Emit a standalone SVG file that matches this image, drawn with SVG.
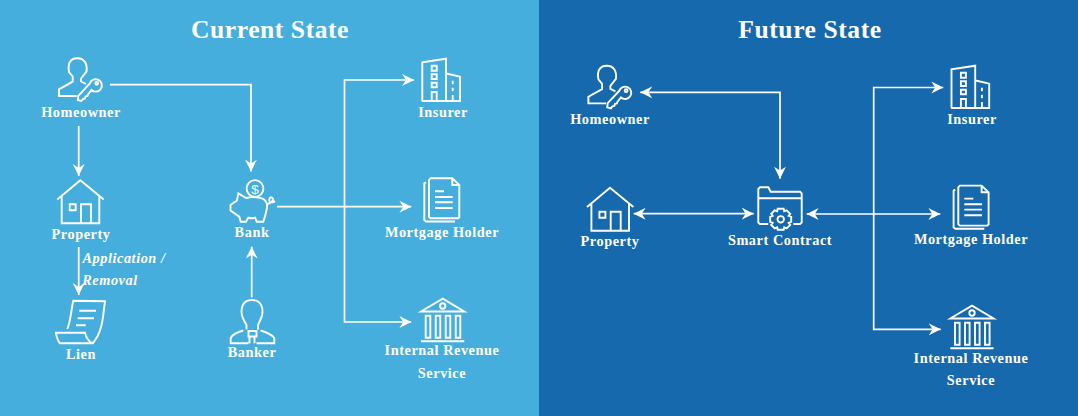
<svg xmlns="http://www.w3.org/2000/svg" width="1078" height="416" viewBox="0 0 1078 416">
<style>
text{font-family:"Liberation Serif","Times New Roman",serif;font-weight:700;fill:#fff;text-anchor:middle}
.l{font-size:14.3px;letter-spacing:.55px}
.t{font-size:25.6px;letter-spacing:.55px}
.i{font-style:italic}
.s{fill:none;stroke:#fff;stroke-width:1.9;stroke-linejoin:miter}
.c{fill:none;stroke:#fff;stroke-width:1.7}
</style>
<defs>
<marker id="a" markerUnits="userSpaceOnUse" markerWidth="13" markerHeight="13" refX="11" refY="6" orient="auto-start-reverse" viewBox="0 0 12 12"><path d="M0 0.500L11 6L0 11.500L3.500 6Z" fill="#fff"/></marker>
<symbol id="owner" overflow="visible"><path class="s" d="M76.700 96H59V89.300L72.700 81.700V76.500L69 72C67.500 64 70 58.300 77.300 58.300C84.500 58.300 87.500 64 86.500 71.500L81 78.500V81.500L86 84"/><path class="s" d="M91.500 90A6.200 6.200 0 1 0 89.800 83.500L78.300 95.800L77.800 100L81.500 101L83 99L85 98.500L85.500 96.500L87.500 96L88 94.500Z"/><circle class="s" cx="96.700" cy="83.300" r="1.400"/></symbol>
<symbol id="house" overflow="visible"><path class="s" d="M57.300 199.500L80.300 180.300L103.700 199.500M61.700 196V223.300H99.300V196M81 223.300V204.300H91V223.300M69.700 204.300H75.700V210.300H69.700Z"/></symbol>
<symbol id="ins" overflow="visible"><path class="s" d="M421.700 101H460V76.700L446.500 73.500M422.300 101V62.300L446 58.700V101M431.700 65.700H436.700V70.700H431.700ZM431.700 74.300H436.700V79H431.700ZM431.700 82.700H436.700V87.300H431.700ZM431.700 101V92H436.700V101M452.700 80.700V84.300M452.700 87.700V91.300M452.700 95V101"/></symbol>
<symbol id="doc" overflow="visible"><path class="s" d="M430.500 178.300H452.300L459.300 185V217L458 218.300H430.500L429 217V180ZM452.300 178.300V185H459.300M426 182.300L424.300 183.300V220L426 221.500H455M435 191.300H444M435 197H452.700M435 202.300H452.700M435 208H452.700"/></symbol>
<symbol id="gov" overflow="visible"><path class="s" d="M421 311.500L442.700 298.700L464.300 311.500ZM421 341.300H464.300M425.700 315.700H430.300V337.700H425.700ZM435.700 315.700H440.300V337.700H435.700ZM445.700 315.700H450.300V337.700H445.700ZM455.700 315.700H460.300V337.700H455.700Z"/><circle class="s" cx="442.700" cy="306" r="2.700"/></symbol>
</defs>
<rect width="539" height="416" fill="#45aedd"/>
<rect x="539" width="539" height="416" fill="#1569ac"/>
<text class="t" x="270" y="38">Current State</text>
<text class="t" x="810" y="38">Future State</text>
<g id="connectors">
<path class="c" d="M110 84.700H251V171.500" marker-end="url(#a)"/>
<path class="c" d="M78.700 126V176" marker-end="url(#a)"/>
<path class="c" d="M78.700 247V295" marker-end="url(#a)"/>
<path class="c" d="M251.700 297.300V246.700" marker-end="url(#a)"/>
<path class="c" d="M414 80H344.500V322H411.300" marker-start="url(#a)" marker-end="url(#a)"/>
<path class="c" d="M277 206.700H411.300" marker-end="url(#a)"/>
<path class="c" d="M640.300 92.300H780V178.700" marker-start="url(#a)" marker-end="url(#a)"/>
<path class="c" d="M633.700 213.700H753.700" marker-start="url(#a)" marker-end="url(#a)"/>
<path class="c" d="M806.700 214H940.300" marker-start="url(#a)" marker-end="url(#a)"/>
<path class="c" d="M943.300 87.500H873.700V329.300H940.700" marker-start="url(#a)" marker-end="url(#a)"/>
</g>
<g id="c-homeowner"><use href="#owner"/><text class="l" x="81" y="117">Homeowner</text></g>
<g id="c-property"><use href="#house"/><text class="l" x="81" y="239">Property</text></g>
<g id="c-lien"><path class="s" d="M67.300 329C71 320 71 310 73.300 300.700L105 301.300C103 315 103 332 92.700 343.300H60C58 341 56.500 337 56 332.700H85C86 337 89 342 92.700 343.300M79.300 310.700H96M77.700 318.300H94M76 325.300H85.700"/><text class="l" x="81" y="359">Lien</text></g>
<g id="c-label"><text class="l i" x="124" y="263">Application /</text><text class="l i" x="110" y="285">Removal</text></g>
<g id="c-bank"><circle class="s" cx="255" cy="188.500" r="8.400"/><text x="255" y="193.500" style="font-size:13.500px;font-family:'Liberation Sans',sans-serif;font-weight:400">$</text><path class="s" d="M238.300 193.300L246 198C252 196.500 260 197 263.300 199C267 201.500 267.500 206 266.700 209C266 213 265 217 263.300 221.700H256.700L255 217.700C252 218.500 250 218.500 248.300 217.700L246 221.700H240.700L239.300 216.700L230.500 210.500V205L237 200.500Z"/><path class="s" d="M266.700 204C270 203.500 274.500 201 272.500 198C270.500 196 268 199 270 202C271.500 203 274 202 275 201"/><text class="l" x="252" y="237">Bank</text></g>
<g id="c-banker"><path class="s" d="M246.500 329.500V325L244 320.500L242.300 316.500C240.500 310 241.500 300 252 300C262.500 300 263.500 310 261.800 316.500L260 320.500L258 325V329.500M243.300 330.500C238 332 232 335 230.700 338V343.300H248.500M260.500 330.500C266 332 272 335 274.300 338V343.300H256.500M248.500 331H256.500V336.500H248.500ZM249.500 336.500V343.300M254.500 336.500V343.300"/><text class="l" x="252" y="357">Banker</text></g>
<g id="c-insurer"><use href="#ins"/><text class="l" x="443" y="117">Insurer</text></g>
<g id="c-mortgage"><use href="#doc"/><text class="l" x="442" y="237">Mortgage Holder</text></g>
<g id="c-irs"><use href="#gov"/><text class="l" x="442" y="355">Internal Revenue</text><text class="l" x="442" y="378">Service</text></g>
<g id="f-homeowner"><use href="#owner" x="529.400" y="7.400"/><text class="l" x="610" y="124">Homeowner</text></g>
<g id="f-property"><use href="#house" x="529.700" y="7.400"/><text class="l" x="610" y="246">Property</text></g>
<g id="f-smart"><path class="s" d="M768.300 224H760L758.300 222.500V189L760 187.300H768.300L770.700 191.700H800L801.700 193.500V222.500L800 224H793.300M758.300 198.300H801.700"/><circle class="s" cx="780.700" cy="219.300" r="3.200"/><path class="s" d="M777.700 208.800H783.700L784.200 211.300L786.700 210.300L790.200 213.800L788.700 215.800L791.200 216.800V221.800L788.700 222.800L790.200 224.800L786.700 228.300L784.200 227.300L783.700 229.800H777.700L777.200 227.300L774.700 228.300L771.200 224.800L772.700 222.800L770.200 221.800V216.800L772.700 215.800L771.200 213.800L774.700 210.300L777.200 211.300Z"/><text class="l" x="780" y="245">Smart Contract</text></g>
<g id="f-insurer"><use href="#ins" x="529.200" y="7"/><text class="l" x="972" y="124">Insurer</text></g>
<g id="f-mortgage"><use href="#doc" x="529.300" y="7.300"/><text class="l" x="971" y="244">Mortgage Holder</text></g>
<g id="f-irs"><use href="#gov" x="529.300" y="7"/><text class="l" x="971" y="363">Internal Revenue</text><text class="l" x="971" y="385">Service</text></g>
</svg>
